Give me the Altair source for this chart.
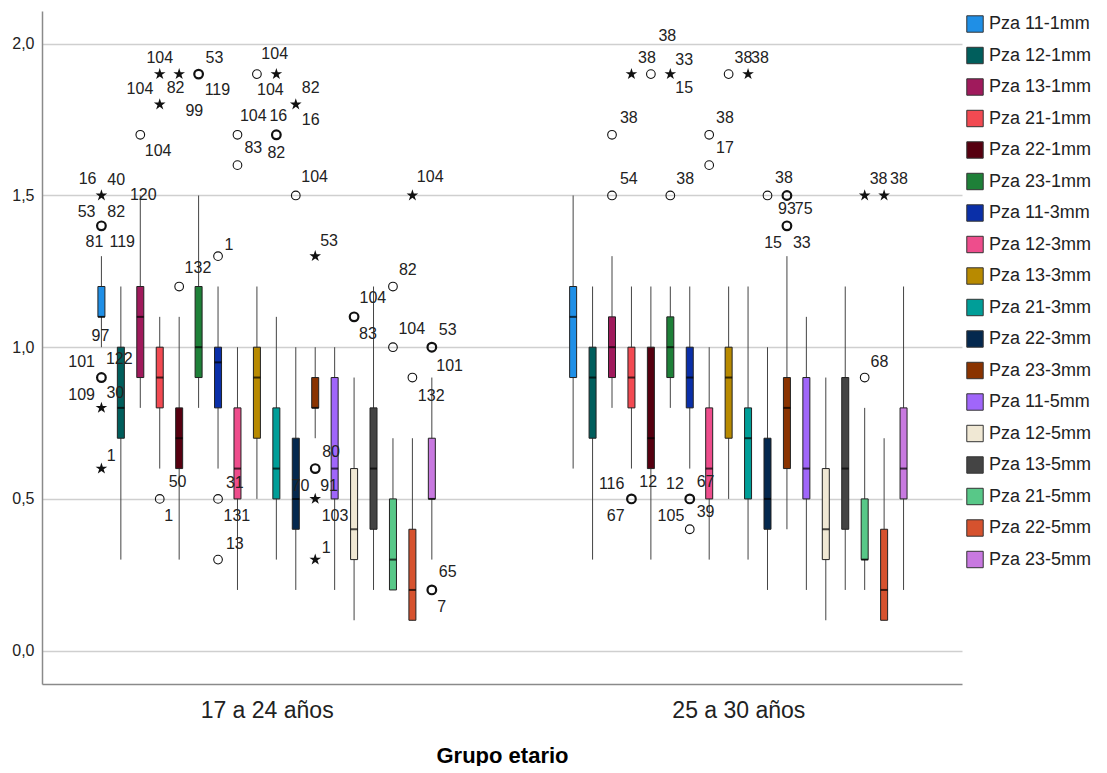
import altair as alt
import pandas as pd

# ---------------- data ----------------
groups = ["17 a 24 años", "25 a 30 años"]
series = ["Pza 11-1mm", "Pza 12-1mm", "Pza 13-1mm", "Pza 21-1mm", "Pza 22-1mm", "Pza 23-1mm",
          "Pza 11-3mm", "Pza 12-3mm", "Pza 13-3mm", "Pza 21-3mm", "Pza 22-3mm", "Pza 23-3mm",
          "Pza 11-5mm", "Pza 12-5mm", "Pza 13-5mm", "Pza 21-5mm", "Pza 22-5mm", "Pza 23-5mm"]
colors = ["#1F8FE6", "#005E5C", "#A01A5C", "#F24A52", "#560010", "#1E8038",
          "#0A2FA8", "#EE4D8C", "#B88A00", "#009E98", "#04284E", "#8A3300",
          "#A066FA", "#F0E8D4", "#444444", "#58C888", "#D6522E", "#C879E0"]

# box statistics, group "17 a 24 años"
g1_lo  = [1.0, 0.3, 0.8, 0.6, 0.3, 0.8, 0.6, 0.2, 0.5, 0.3, 0.2, 0.7, 0.2, 0.1, 0.2, 0.2, 0.1, 0.3]
g1_q1  = [1.1, 0.7, 0.9, 0.8, 0.6, 0.9, 0.8, 0.5, 0.7, 0.5, 0.4, 0.8, 0.5, 0.3, 0.4, 0.2, 0.1, 0.5]
g1_med = [1.1, 0.8, 1.1, 0.9, 0.7, 1.0, 0.95, 0.6, 0.9, 0.6, 0.5, 0.8, 0.6, 0.4, 0.6, 0.3, 0.2, 0.5]
g1_q3  = [1.2, 1.0, 1.2, 1.0, 0.8, 1.2, 1.0, 0.8, 1.0, 0.8, 0.7, 0.9, 0.9, 0.6, 0.8, 0.5, 0.4, 0.7]
g1_hi  = [1.3, 1.2, 1.5, 1.1, 1.1, 1.5, 1.2, 1.0, 1.2, 1.1, 1.0, 1.0, 1.0, 0.9, 1.2, 0.7, 0.7, 0.9]

# box statistics, group "25 a 30 años"
g2_lo  = [0.6, 0.3, 0.8, 0.6, 0.3, 0.8, 0.6, 0.3, 0.5, 0.3, 0.2, 0.4, 0.2, 0.1, 0.2, 0.2, 0.1, 0.2]
g2_q1  = [0.9, 0.7, 0.9, 0.8, 0.6, 0.9, 0.8, 0.5, 0.7, 0.5, 0.4, 0.6, 0.5, 0.3, 0.4, 0.3, 0.1, 0.5]
g2_med = [1.1, 0.9, 1.0, 0.9, 0.7, 1.0, 0.9, 0.6, 0.9, 0.7, 0.5, 0.8, 0.6, 0.4, 0.6, 0.3, 0.2, 0.6]
g2_q3  = [1.2, 1.0, 1.1, 1.0, 1.0, 1.1, 1.0, 0.8, 1.0, 0.8, 0.7, 0.9, 0.9, 0.6, 0.9, 0.5, 0.4, 0.8]
g2_hi  = [1.5, 1.2, 1.3, 1.2, 1.2, 1.2, 1.2, 1.0, 1.2, 1.2, 1.0, 1.3, 1.1, 0.9, 1.2, 0.8, 0.7, 1.2]

# outliers: (group index, series index, value, kind 'o' circle / '*' extreme, bold)
outliers = [
    (0, 0, 1.5, "*", 1), (0, 0, 1.4, "o", 1), (0, 0, 0.9, "o", 1), (0, 0, 0.8, "*", 0), (0, 0, 0.6, "*", 0),
    (0, 2, 1.7, "o", 0),
    (0, 3, 1.9, "*", 0), (0, 3, 1.8, "*", 0), (0, 3, 0.5, "o", 0),
    (0, 4, 1.9, "*", 0), (0, 4, 1.2, "o", 0),
    (0, 5, 1.9, "o", 1),
    (0, 6, 1.3, "o", 0), (0, 6, 0.5, "o", 0), (0, 6, 0.3, "o", 0),
    (0, 7, 1.7, "o", 0), (0, 7, 1.6, "o", 0),
    (0, 8, 1.9, "o", 0),
    (0, 9, 1.9, "*", 0), (0, 9, 1.7, "o", 1),
    (0, 10, 1.8, "*", 1), (0, 10, 1.5, "o", 0),
    (0, 11, 1.3, "*", 0), (0, 11, 0.6, "o", 1), (0, 11, 0.5, "*", 0), (0, 11, 0.3, "*", 0),
    (0, 13, 1.1, "o", 1),
    (0, 15, 1.2, "o", 0), (0, 15, 1.0, "o", 0),
    (0, 16, 1.5, "*", 0), (0, 16, 0.9, "o", 0),
    (0, 17, 1.0, "o", 1), (0, 17, 0.2, "o", 1),
    (1, 2, 1.7, "o", 0), (1, 2, 1.5, "o", 0),
    (1, 3, 1.9, "*", 0), (1, 3, 0.5, "o", 1),
    (1, 4, 1.9, "o", 0),
    (1, 5, 1.9, "*", 1), (1, 5, 1.5, "o", 0),
    (1, 6, 0.5, "o", 1), (1, 6, 0.4, "o", 0),
    (1, 7, 1.7, "o", 0), (1, 7, 1.6, "o", 0),
    (1, 8, 1.9, "o", 0),
    (1, 9, 1.9, "*", 0),
    (1, 10, 1.5, "o", 0),
    (1, 11, 1.5, "o", 1), (1, 11, 1.4, "o", 1),
    (1, 15, 1.5, "*", 0), (1, 15, 0.9, "o", 0),
    (1, 16, 1.5, "*", 0),
]

# case labels: (group index, series index, value of anchor point, text, dx px, dy px)
case_labels = [
    (0, 0, 1.5, "16", -14, -16), (0, 0, 1.5, "40", 15, -15),
    (0, 0, 1.4, "53", -15, -14), (0, 0, 1.4, "82", 15, -14),
    (0, 0, 1.4, "81", -7, 16), (0, 0, 1.4, "119", 21, 16),
    (0, 0, 1.0, "97", -1, -11),
    (0, 0, 0.9, "101", -20, -16), (0, 0, 0.9, "109", -20, 17), (0, 0, 0.9, "122", 18, -19),
    (0, 0, 0.8, "30", 14, -15),
    (0, 0, 0.6, "1", 10, -13),
    (0, 2, 1.5, "120", 3, 0),
    (0, 2, 1.7, "104", 18, 16),
    (0, 3, 1.9, "104", 0, -16), (0, 3, 1.9, "104", -20, 15), (0, 3, 1.9, "82", 16, 14),
    (0, 3, 1.8, "99", 35, 7),
    (0, 3, 0.5, "50", 18, -17), (0, 3, 0.5, "1", 9, 17),
    (0, 5, 1.9, "53", 16, -16), (0, 5, 1.9, "119", 19, 16),
    (0, 4, 1.2, "132", 19, -19),
    (0, 6, 1.3, "1", 11, -11),
    (0, 6, 0.5, "31", 17, -16), (0, 6, 0.5, "131", 19, 17),
    (0, 6, 0.3, "13", 17, -16),
    (0, 7, 1.7, "104", 16, -19), (0, 7, 1.7, "83", 16, 13),
    (0, 8, 1.9, "104", 18, -20),
    (0, 9, 1.9, "104", -6, 16),
    (0, 9, 1.7, "16", 2, -19), (0, 9, 1.7, "82", 0, 18),
    (0, 10, 1.8, "82", 15, -16), (0, 10, 1.8, "16", 15, 16),
    (0, 10, 1.5, "104", 19, -18),
    (0, 11, 1.3, "53", 14, -15),
    (0, 11, 0.6, "70", -15, 17), (0, 11, 0.6, "80", 16, -17), (0, 11, 0.6, "91", 14, 17),
    (0, 11, 0.5, "103", 20, 17),
    (0, 11, 0.3, "1", 11, -12),
    (0, 13, 1.1, "104", 19, -19), (0, 13, 1.1, "83", 14, 17),
    (0, 15, 1.2, "82", 15, -17),
    (0, 15, 1.0, "104", 19, -18),
    (0, 16, 1.5, "104", 18, -18),
    (0, 16, 0.9, "132", 19, 18),
    (0, 17, 1.0, "53", 16, -17), (0, 17, 1.0, "101", 18, 19),
    (0, 17, 0.2, "65", 16, -18), (0, 17, 0.2, "7", 10, 17),
    (1, 2, 1.7, "38", 17, -17), (1, 2, 1.5, "54", 17, -16),
    (1, 4, 1.9, "38", -4, -16),
    (1, 3, 0.5, "116", -20, -15), (1, 3, 0.5, "67", -16, 17), (1, 3, 0.5, "12", 17, -17),
    (1, 5, 1.9, "38", -3, -38), (1, 5, 1.9, "33", 14, -14), (1, 5, 1.9, "15", 14, 14),
    (1, 5, 1.5, "38", 15, -16),
    (1, 6, 0.5, "12", -15, -15), (1, 6, 0.5, "105", -19, 17),
    (1, 6, 0.5, "67", 16, -17), (1, 6, 0.5, "39", 16, 13),
    (1, 7, 1.7, "38", 16, -17), (1, 7, 1.6, "17", 16, -17),
    (1, 8, 1.9, "38", 15, -16), (1, 9, 1.9, "38", 12, -16),
    (1, 11, 1.5, "38", -3, -17), (1, 11, 1.5, "93", 0, 14), (1, 11, 1.5, "75", 17, 14),
    (1, 11, 1.4, "15", -14, 17), (1, 11, 1.4, "33", 15, 17),
    (1, 15, 1.5, "38", 14, -16), (1, 16, 1.5, "38", 15, -16),
    (1, 15, 0.9, "68", 15, -16),
]

# ---------------- layout constants ----------------
W, H = 920, 673
GROUP_GAP = 24.27          # distance between groups, in series steps
X_MIN, X_MAX = -2.8, 44.02
Y_MIN, Y_MAX = -0.11, 2.108
PX_X = W / (X_MAX - X_MIN)
PX_Y = H / (Y_MAX - Y_MIN)
FONT = "Liberation Sans"
STAR = ("M0,-1L0.2245,-0.309L0.951,-0.309L0.363,0.118L0.588,0.809L0,0.382"
        "L-0.588,0.809L-0.363,0.118L-0.951,-0.309L-0.2245,-0.309Z")

stats = [(g1_lo, g1_q1, g1_med, g1_q3, g1_hi), (g2_lo, g2_q1, g2_med, g2_q3, g2_hi)]
rows = []
for gi, (lo, q1, md, q3, hi) in enumerate(stats):
    for si, name in enumerate(series):
        rows.append(dict(group=groups[gi], series=name, pos=gi * GROUP_GAP + si,
                         lo=lo[si], q1=q1[si], med=md[si], q3=q3[si], hi=hi[si]))
box_df = pd.DataFrame(rows)

out_df = pd.DataFrame([dict(pos=g * GROUP_GAP + s, value=v, kind=k, sw=2.2 if b else 1.1)
                       for g, s, v, k, b in outliers])
lab_df = pd.DataFrame([dict(pos=g * GROUP_GAP + s, value=v, text=t, dx=dx, dy=dy)
                       for g, s, v, t, dx, dy in case_labels])

xs = alt.Scale(domain=[X_MIN, X_MAX], nice=False, zero=False)
ys = alt.Scale(domain=[Y_MIN, Y_MAX], nice=False, zero=False)

x_axis = alt.Axis(
    values=[8.5, GROUP_GAP + 8.5],
    labelExpr=f"datum.value < {GROUP_GAP / 2} ? '{groups[0]}' : '{groups[1]}'",
    grid=False, ticks=False, domainColor="#8a8a8a", domainWidth=1.5,
    labelFont=FONT, labelFontSize=23, labelColor="#222222", labelPadding=15,
    title="Grupo etario", titleFont=FONT, titleFontSize=22, titleFontWeight="bold",
    titleColor="#000000", titlePadding=23,
)
y_axis = alt.Axis(
    values=[0, 0.5, 1.0, 1.5, 2.0],
    labelExpr="replace(format(datum.value, '.1f'), '.', ',')",
    grid=True, gridColor="#cfcfcf", gridWidth=1.5, ticks=False,
    domainColor="#8a8a8a", domainWidth=1.5,
    labelFont=FONT, labelFontSize=16, labelColor="#222222", labelPadding=8,
    title=None,
)

whisk = alt.Chart(box_df).mark_rule(color="#444444", strokeWidth=1).encode(
    x=alt.X("pos:Q", scale=xs, axis=x_axis),
    y=alt.Y("lo:Q", scale=ys, axis=y_axis),
    y2="hi:Q",
)

box = alt.Chart(box_df).mark_bar(size=7, stroke="#222222", strokeWidth=1).encode(
    x=alt.X("pos:Q", scale=xs),
    y=alt.Y("q1:Q", scale=ys),
    y2="q3:Q",
    color=alt.Color("series:N", scale=alt.Scale(domain=series, range=colors),
                    legend=alt.Legend(title=None, orient="right", offset=0, padding=4,
                                      symbolType="square", symbolSize=270,
                                      symbolStrokeColor="#333333", symbolStrokeWidth=1,
                                      labelFont=FONT, labelFontSize=18, labelColor="#222222",
                                      labelOffset=5, rowPadding=9.5)),
)

median = alt.Chart(box_df).mark_tick(orient="horizontal", size=7, thickness=2, color="#000000").encode(
    x=alt.X("pos:Q", scale=xs),
    y=alt.Y("med:Q", scale=ys),
)

circles = alt.Chart(out_df).transform_filter("datum.kind == 'o'").mark_point(
    shape="circle", filled=False, color="#111111", size=75, opacity=1
).encode(
    x=alt.X("pos:Q", scale=xs),
    y=alt.Y("value:Q", scale=ys),
    strokeWidth=alt.StrokeWidth("sw:Q", scale=None),
)

stars = alt.Chart(out_df).transform_filter("datum.kind == '*'").mark_point(
    shape=STAR, filled=True, color="#111111", size=150, opacity=1
).encode(
    x=alt.X("pos:Q", scale=xs),
    y=alt.Y("value:Q", scale=ys),
)

labels = alt.Chart(lab_df).transform_calculate(
    lx=f"datum.pos + datum.dx / {PX_X}",
    ly=f"datum.value - datum.dy / {PX_Y}",
).mark_text(font=FONT, fontSize=16, color="#222222", align="center", baseline="middle").encode(
    x=alt.X("lx:Q", scale=xs),
    y=alt.Y("ly:Q", scale=ys),
    text="text:N",
)

chart = alt.layer(whisk, box, median, circles, stars, labels).properties(
    width=W, height=H,
    padding={"left": 3, "top": 3, "right": 0, "bottom": 0},
).configure_view(stroke="transparent")

chart.save("out.html", embed_options={"renderer": "svg", "actions": False})
